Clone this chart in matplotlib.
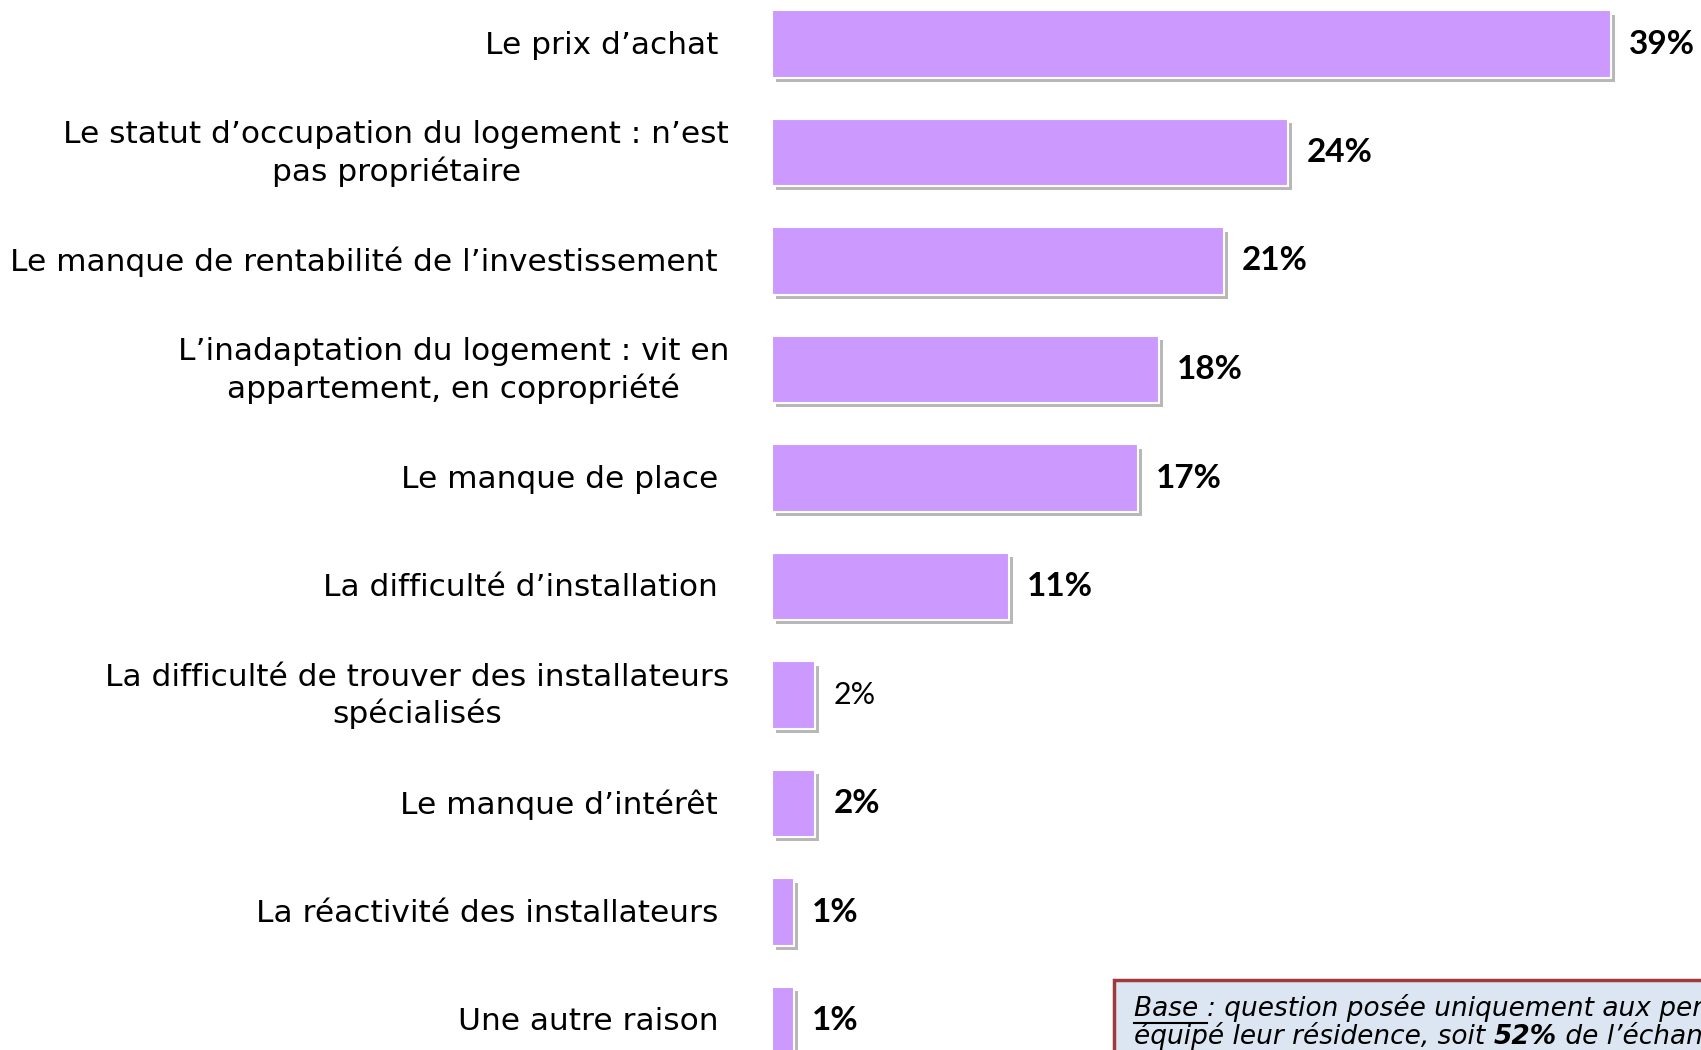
import matplotlib
matplotlib.use("Agg")
import matplotlib.pyplot as plt
import matplotlib.patheffects as pe
from matplotlib.patches import Rectangle

# data
labels = [
    "Le prix d\u2019achat",
    "Le statut d\u2019occupation du logement : n\u2019est\npas propri\u00e9taire",
    "Le manque de rentabilit\u00e9 de l\u2019investissement",
    "L\u2019inadaptation du logement : vit en\nappartement, en copropri\u00e9t\u00e9",
    "Le manque de place",
    "La difficult\u00e9 d\u2019installation",
    "La difficult\u00e9 de trouver des installateurs\nsp\u00e9cialis\u00e9s",
    "Le manque d\u2019int\u00e9r\u00eat",
    "La r\u00e9activit\u00e9 des installateurs",
    "Une autre raison",
]
values = [39, 24, 21, 18, 17, 11, 2, 2, 1, 1]
value_bold = [True, True, True, True, True, True, False, True, True, True]

bar_color = "#CC99FF"
plt.rcParams["font.family"] = ["DejaVu Sans"]

fig = plt.figure(figsize=(17.01, 10.5), dpi=100)
# axes starts where the bars start, runs past the bottom edge like the slide
ax = fig.add_axes([772 / 1701, 0, 1 - 772 / 1701, 1])
ax.set_xlim(0, (1701 - 772) / 21.5)
ax.set_ylim((1050 - 44) / 108.5, -44 / 108.5)
ax.axis("off")

ypos = list(range(len(values)))
bars = ax.barh(ypos, values, height=0.62, color=bar_color,
               edgecolor="white", linewidth=1.5)
for b in bars:
    b.set_path_effects([pe.withSimplePatchShadow(offset=(3, -3), shadow_rgbFace="#999999", alpha=0.7)])

for y, v, bold in zip(ypos, values, value_bold):
    ax.text(v + 0.85, y, f"{v}%", va="center", ha="left",
            fontsize=24 if bold else 22,
            fontweight="bold" if bold else "normal", color="black",
            family="Lato")

# category labels left of bars (figure pixel coordinates)
for y, lab in zip(ypos, labels):
    ypix = 45 + 108.5 * y
    xpix = 729 if "\n" in lab else 718
    fig.text(xpix / 1701, 1 - ypix / 1050, lab, ha="right", va="center",
             multialignment="center", fontsize=22.5, linespacing=1.3)

# note box at the bottom right
box = Rectangle((1114 / 1701, -0.05), 0.5, 0.05 + (1 - 980 / 1050),
                transform=fig.transFigure, facecolor="#DCE6F2",
                edgecolor="#A0393C", linewidth=2.5, clip_on=False)
fig.patches.append(box)

fs = 19
x0 = 1134 / 1701
t1 = fig.text(x0, 1 - 1016 / 1050, "Base ", fontsize=fs, style="italic", va="baseline")
fig.canvas.draw()
r = fig.canvas.get_renderer()
bb = t1.get_window_extent(r)
fig.add_artist(plt.Line2D([bb.x0 / 1701, bb.x1 / 1701],
                          [(bb.y0 - 1) / 1050, (bb.y0 - 1) / 1050],
                          transform=fig.transFigure, color="black", linewidth=1.5))
fig.text(bb.x1 / 1701, 1 - 1016 / 1050,
         ": question pos\u00e9e uniquement aux personnes n\u2019ayant pas",
         fontsize=fs, style="italic", va="baseline")

ya = 1 - 1044 / 1050
s1 = fig.text(x0, ya, "\u00e9quip\u00e9 leur r\u00e9sidence, soit ", fontsize=fs, style="italic", va="baseline")
fig.canvas.draw()
b1 = s1.get_window_extent(r)
s2 = fig.text(b1.x1 / 1701, ya, "52%", fontsize=fs, style="italic", fontweight="bold", va="baseline")
fig.canvas.draw()
b2 = s2.get_window_extent(r)
fig.text(b2.x1 / 1701, ya, " de l\u2019\u00e9chantillon", fontsize=fs, style="italic", va="baseline")

fig.savefig("out.png", dpi=100)
